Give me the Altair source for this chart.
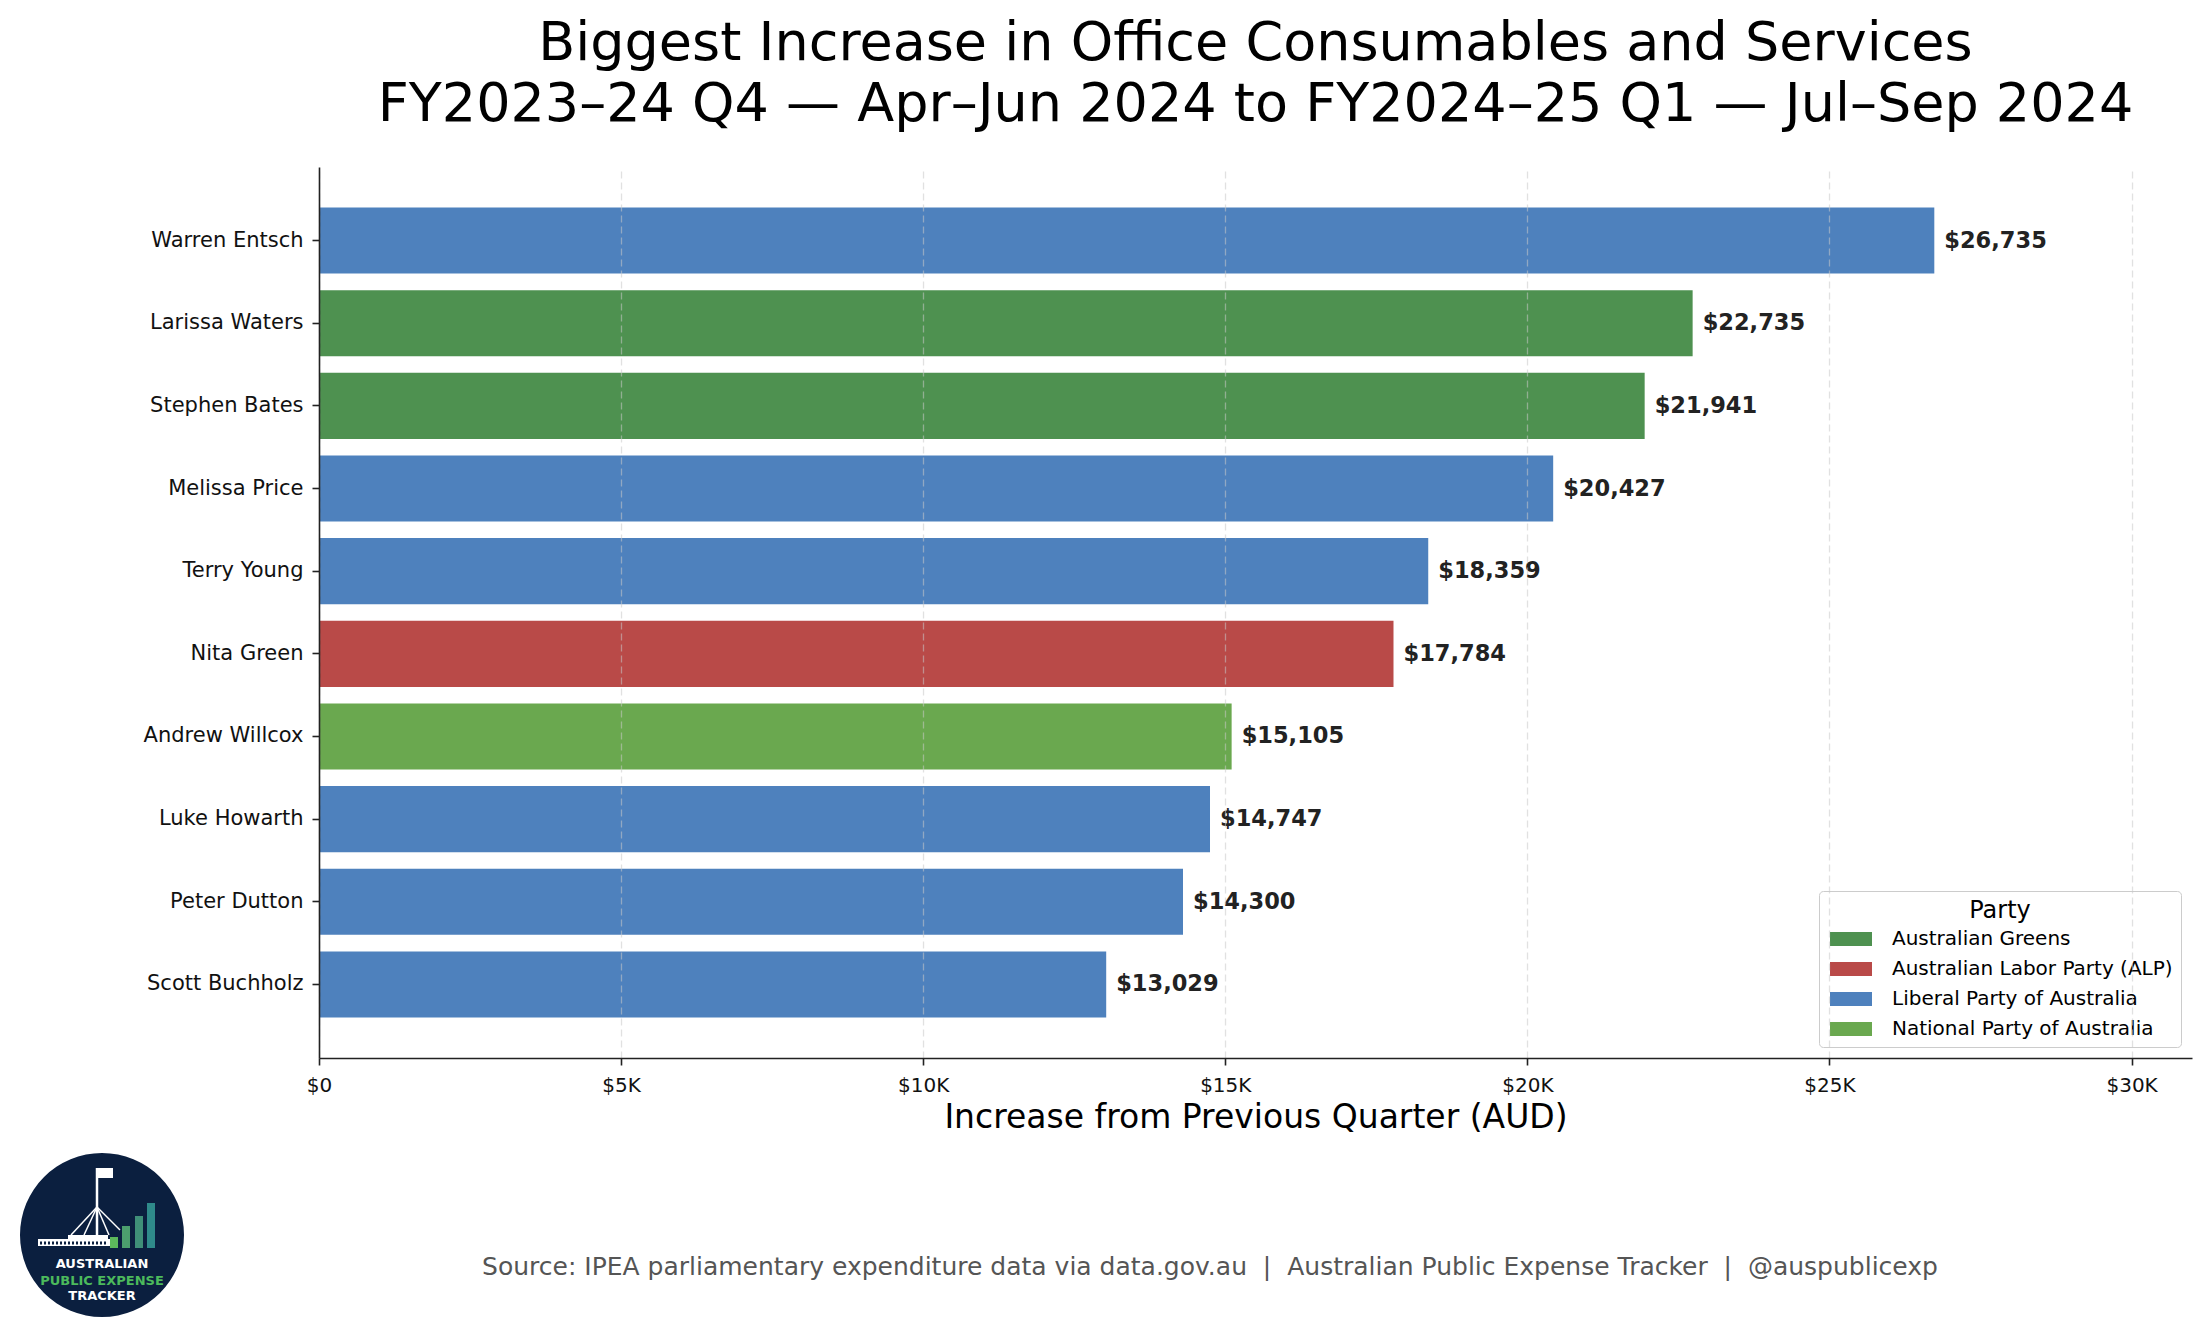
import pandas as pd
import altair as alt

members = [
    "Warren Entsch", "Larissa Waters", "Stephen Bates", "Melissa Price",
    "Terry Young", "Nita Green", "Andrew Willcox", "Luke Howarth",
    "Peter Dutton", "Scott Buchholz",
]
parties = [
    "Liberal Party of Australia", "Australian Greens", "Australian Greens",
    "Liberal Party of Australia", "Liberal Party of Australia",
    "Australian Labor Party (ALP)", "National Party of Australia",
    "Liberal Party of Australia", "Liberal Party of Australia",
    "Liberal Party of Australia",
]
increase = [26735, 22735, 21941, 20427, 18359, 17784, 15105, 14747, 14300, 13029]

party_names = [
    "Australian Greens", "Australian Labor Party (ALP)",
    "Liberal Party of Australia", "National Party of Australia",
]
party_colors = ["#4e9150", "#b94a48", "#4e81bd", "#6aa84f"]

x_ticks = [0, 5000, 10000, 15000, 20000, 25000, 30000]

title_lines = [
    "Biggest Increase in Office Consumables and Services",
    "FY2023–24 Q4 — Apr–Jun 2024 to FY2024–25 Q1 — Jul–Sep 2024",
]
x_title = "Increase from Previous Quarter (AUD)"
# svg collapses runs of spaces, so keep the double spaces as nbsp
sep = "\u00a0\u00a0|\u00a0\u00a0"
source_note = ("Source: IPEA parliamentary expenditure data via data.gov.au" + sep
               + "Australian Public Expense Tracker" + sep + "@auspublicexp")

df = pd.DataFrame({"member": members, "party": parties, "increase": increase})

# %%
base = alt.Chart(df).encode(
    y=alt.Y(
        "member:N",
        sort=members,
        title="",
        scale=alt.Scale(paddingInner=0.2, paddingOuter=0.49),
        axis=alt.Axis(
            labelFontSize=21, labelColor="#111", labelPadding=9,
            tickSize=7, tickWidth=1.6, tickColor="#222",
            domainColor="#222", domainWidth=1.6, grid=False, zindex=1)
    )
)

bars = base.mark_bar().encode(
    x=alt.X(
        "increase:Q",
        title=x_title,
        scale=alt.Scale(domain=[0, 31000], nice=False),
        axis=alt.Axis(
            values=x_ticks,
            labelExpr="datum.value == 0 ? '$0' : '$' + format(datum.value / 1000, 'd') + 'K'",
            labelFontSize=20, labelColor="#111", labelPadding=10, labelFlush=False,
            tickSize=7, tickWidth=1.6, tickColor="#222",
            domainColor="#222", domainWidth=1.6,
            grid=True, gridDash=[7, 4], gridColor="#c8c8c8",
            gridOpacity=0.55, gridWidth=1.3,
            titleFontSize=33, titleFontWeight="normal", titleColor="black",
            titlePadding=6, zindex=1)
    ),
    color=alt.Color(
        "party:N",
        scale=alt.Scale(domain=party_names, range=party_colors),
        legend=alt.Legend(
            title="Party", orient="bottom-right", offset=11, padding=8,
            strokeColor="#cccccc", fillColor="white", cornerRadius=4,
            titleAnchor="middle", titleFontSize=24, titleFontWeight="normal",
            titleColor="black", titlePadding=6,
            labelFontSize=20, labelColor="black", labelOffset=45, labelLimit=400,
            symbolType="M-1,-1H5V1H-1Z", symbolSize=196,
            symbolStrokeWidth=0, symbolOpacity=1, rowPadding=10)
    )
)

labels = base.mark_text(
    align="left", baseline="middle", dx=10,
    fontSize=22.5, fontWeight="bold", color="#222"
).encode(
    x=alt.X("increase:Q", title=x_title),
    text="label:N"
).transform_calculate(label="'$' + format(datum.increase, ',')")

# %% footer and logo
dummy = pd.DataFrame({"k": [0]})

source = alt.Chart(dummy).mark_text(
    text=source_note, fontSize=25, color="#555555",
    align="center", baseline="alphabetic"
).encode(x=alt.value(891), y=alt.value(1108))

logo = [
    alt.Chart(dummy).mark_circle(size=26896, color="#0b1f3f", opacity=1).encode(
        x=alt.value(-217), y=alt.value(1068)),
    # building
    alt.Chart(dummy).mark_rect(color="white").encode(
        x=alt.value(-281), x2=alt.value(-209), y=alt.value(1072), y2=alt.value(1079)),
    alt.Chart(dummy).mark_rect(color="white").encode(
        x=alt.value(-251), x2=alt.value(-211), y=alt.value(1068), y2=alt.value(1079)),
    alt.Chart(dummy).mark_rule(color="#0b1f3f", strokeWidth=3, strokeDash=[2, 2]).encode(
        x=alt.value(-279), x2=alt.value(-212), y=alt.value(1076)),
    # flagpole, flag and legs
    alt.Chart(dummy).mark_rule(color="white", strokeWidth=2.5).encode(
        x=alt.value(-222), y=alt.value(1001), y2=alt.value(1068)),
    alt.Chart(dummy).mark_rect(color="white").encode(
        x=alt.value(-221), x2=alt.value(-206), y=alt.value(1001), y2=alt.value(1011)),
]
for leg_x, leg_y in [(-248, 1068), (-235, 1068), (-210, 1068), (-199, 1063)]:
    logo.append(alt.Chart(dummy).mark_rule(color="white", strokeWidth=1.5).encode(
        x=alt.value(-222), x2=alt.value(leg_x), y=alt.value(1040), y2=alt.value(leg_y)))
for bx, btop, bc in [(-205, 1070, "#5cb85c"), (-193, 1059, "#4c9f6e"),
                     (-180, 1049, "#3f8f78"), (-168, 1036, "#2f8a8a")]:
    logo.append(alt.Chart(dummy).mark_rule(color=bc, strokeWidth=8).encode(
        x=alt.value(bx), y=alt.value(btop), y2=alt.value(1081)))
for txt, ty, tc in [("AUSTRALIAN", 1101, "white"),
                    ("PUBLIC EXPENSE", 1118, "#4cba5c"),
                    ("TRACKER", 1133, "white")]:
    logo.append(alt.Chart(dummy).mark_text(
        text=txt, fontSize=13, fontWeight="bold", color=tc,
        align="center", baseline="alphabetic").encode(
        x=alt.value(-217), y=alt.value(ty)))

chart = alt.layer(bars, labels, source, *logo).properties(
    width=1873,
    height=891,
    autosize=alt.AutoSizeParams(type="none"),
    padding={"left": 311, "top": 159, "right": 5, "bottom": 262},
    title=alt.TitleParams(
        text=title_lines, fontSize=54, fontWeight="normal", color="black",
        anchor="middle", offset=35, lineHeight=61)
).configure(
    font="DejaVu Sans"
).configure_view(
    stroke="transparent"
)

chart.save("out.html", embed_options={"renderer": "svg", "actions": False})
